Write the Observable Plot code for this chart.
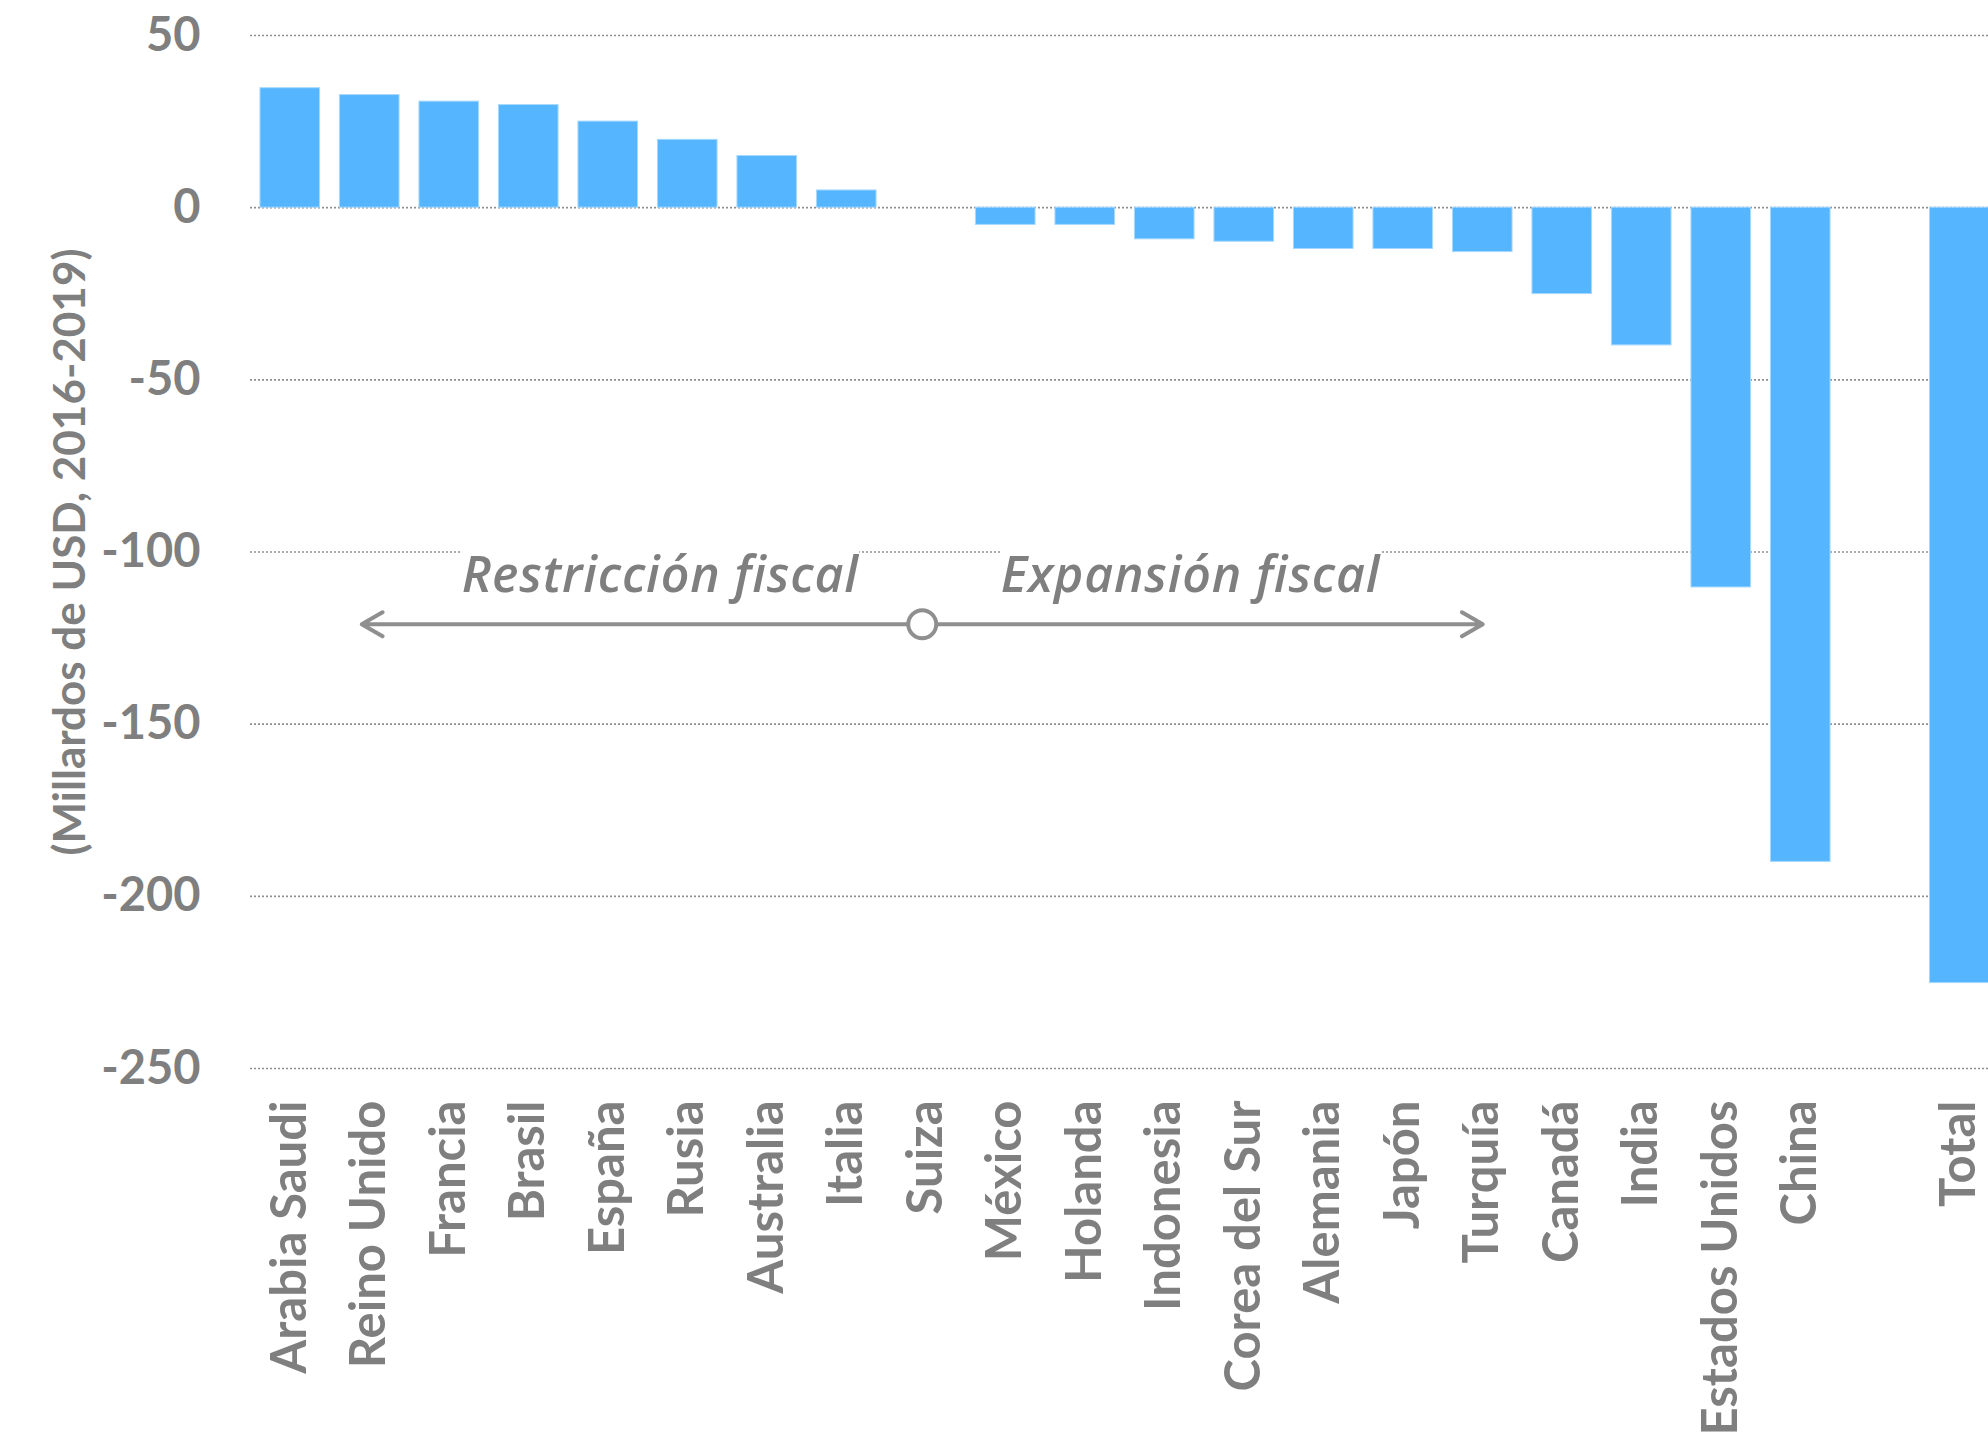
<!DOCTYPE html>
<html>
<head>
<meta charset="utf-8">
<script src="https://cdn.jsdelivr.net/npm/d3@7"></script>
<script src="https://cdn.jsdelivr.net/npm/@observablehq/plot@0.6"></script>
<style>
  html, body { margin: 0; padding: 0; background: #fff; overflow: hidden; }
</style>
</head>
<body>
<div id="chart"></div>
<script>
// Change in fiscal balance by country, billions of USD (2016-2019)
const countries = [
  "Arabia Saudi", "Reino Unido", "Francia", "Brasil", "España", "Rusia",
  "Australia", "Italia", "Suiza", "México", "Holanda", "Indonesia",
  "Corea del Sur", "Alemania", "Japón", "Turquía", "Canadá", "India",
  "Estados Unidos", "China"
];
const values = [
  34.7, 32.7, 30.8, 29.8, 25.0, 19.7,
  15.0, 5.0, 0, -5.0, -5.0, -9.2,
  -9.9, -12.0, -12.0, -12.9, -25.1, -40.0,
  -110.3, -190.0
];
const totalLabel = "Total";
const totalValue = -225.2;

const yTicks = [50, 0, -50, -100, -150, -200, -250];
const yLabel = "(Millardos de USD, 2016-2019)";
const leftNote = "Restricción fiscal";
const rightNote = "Expansión fiscal";

const gray = "#7f7f7f";
const lineGray = "#8f8f8f";
const barBlue = "#55b6ff";

// an empty slot separates the countries from the total
const spacer = " ";
const domain = [...countries, spacer, totalLabel];
const bars = countries
  .map((name, i) => ({name, value: values[i]}))
  .concat([{name: totalLabel, value: totalValue}]);

const arrowY = -121;

const chart = Plot.plot({
  width: 1988,
  height: 1438,
  marginTop: 35,
  marginBottom: 370,
  marginLeft: 250,
  marginRight: 0,
  style: {fontFamily: "Lato, 'Open Sans', sans-serif", color: gray, background: "white", overflow: "hidden"},
  x: {domain, range: [250, 1999], paddingInner: 0.25, paddingOuter: 0.125, round: false, label: null},
  y: {domain: [-250, 50], label: null},
  marks: [
    Plot.gridY(yTicks, {stroke: lineGray, strokeOpacity: 1, strokeWidth: 1.6, strokeDasharray: "2,2"}),
    Plot.barY(bars, {
      x: "name", y: "value", fill: barBlue, stroke: "#a8d8ff", strokeWidth: 1,
      filter: d => d.value !== 0
    }),
    Plot.axisY(yTicks, {
      tickSize: 0, tickPadding: 50, fontSize: 47, fontWeight: "bold",
      tickFormat: d => String(d), label: null
    }),
    Plot.axisX(countries.concat([totalLabel]), {
      tickSize: 0, tickPadding: 32, tickRotate: -90, fontSize: 49, fontWeight: "bold", label: null
    }),
    Plot.text([yLabel], {
      text: d => d, frameAnchor: "left", textAnchor: "middle", dx: -180, rotate: -90,
      fontSize: 44, fontWeight: "bold", fill: gray
    }),
    // direction arrows around the neutral point
    Plot.arrow([{from: "Suiza", to: "Reino Unido"}], {
      x1: "from", x2: "to", y1: () => arrowY, y2: () => arrowY,
      stroke: lineGray, strokeWidth: 4, headLength: 9, headAngle: 60, insetEnd: -8
    }),
    Plot.arrow([{from: "Suiza", to: "Turquía"}], {
      x1: "from", x2: "to", y1: () => arrowY, y2: () => arrowY,
      stroke: lineGray, strokeWidth: 4, headLength: 9, headAngle: 60
    }),
    Plot.dot(["Suiza"], {
      x: d => d, y: () => arrowY, r: 14, dx: -4, fill: "white", stroke: lineGray, strokeWidth: 4
    }),
    Plot.text([leftNote], {
      text: d => d, x: () => "Italia", y: () => -107, textAnchor: "end", dx: 12,
      fontFamily: "'Open Sans', sans-serif", fontStyle: "italic", fontWeight: 600, fontSize: 50, fill: gray
    }),
    Plot.text([rightNote], {
      text: d => d, x: () => "México", y: () => -107, textAnchor: "start", dx: -5,
      fontFamily: "'Open Sans', sans-serif", fontStyle: "italic", fontWeight: 600, fontSize: 50, fill: gray
    })
  ]
});

document.getElementById("chart").appendChild(chart);

// white boxes behind the two notes so the grid line stops at the text
chart.querySelectorAll("text").forEach(t => {
  if (t.textContent !== leftNote && t.textContent !== rightNote) return;
  t.style.letterSpacing = "0.8px";
  const b = t.getBBox();
  const r = document.createElementNS("http://www.w3.org/2000/svg", "rect");
  r.setAttribute("x", b.x);
  r.setAttribute("y", b.y);
  r.setAttribute("width", b.width);
  r.setAttribute("height", b.height);
  r.setAttribute("fill", "white");
  const tr = t.getAttribute("transform");
  if (tr) r.setAttribute("transform", tr);
  t.parentNode.insertBefore(r, t);
});
</script>
</body>
</html>
